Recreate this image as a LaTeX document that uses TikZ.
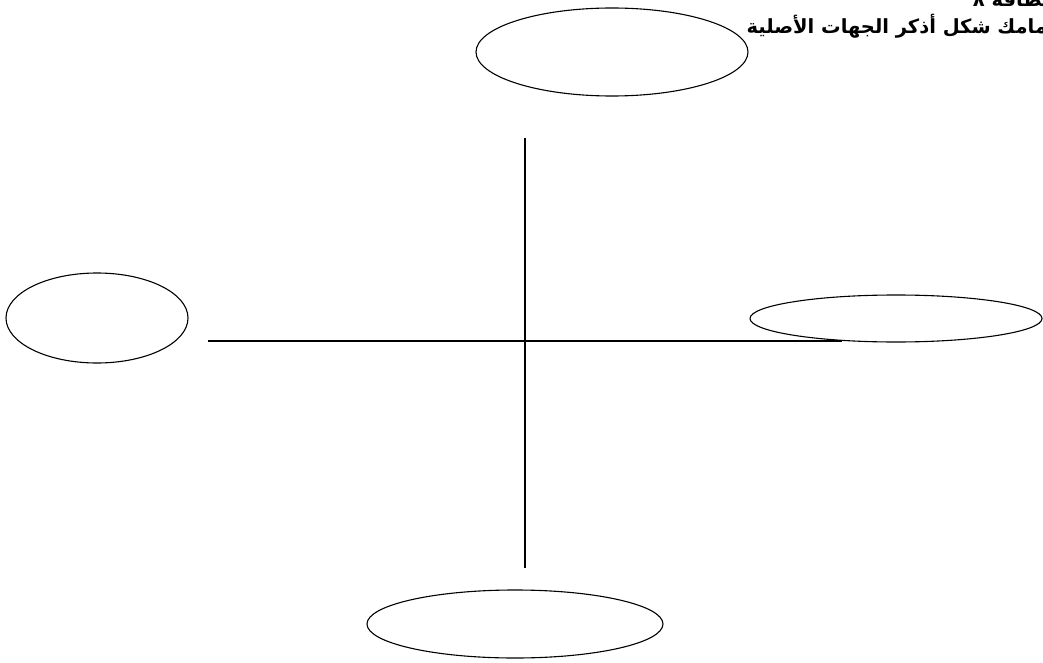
\documentclass[tikz,border=0pt]{standalone}
\usepackage{fontspec}
\newfontfamily\arabicfont[Script=Arabic,BoldFont={DejaVu Sans Bold}]{DejaVu Sans}
\TeXXeTstate=1
\usetikzlibrary{shapes.geometric}

\begin{document}
\begin{tikzpicture}[
  x=1pt, y=-1pt,
  blank/.style={draw=black, line width=1.1pt, ellipse, inner sep=0pt},
  axis/.style={draw=black, line width=1.1pt},
  ttl/.style={font=\arabicfont\bfseries\fontsize{19.5}{23}\selectfont, inner sep=0pt}]
\useasboundingbox (0,0) rectangle (1043,663);

% card title, partly cut by the page edge
\node[ttl, anchor=base east] (card) at (1050,7) {\beginR بطاقة ٨\endR};
\node[ttl, anchor=base east] (task) at (1054,34) {\beginR أمامك شكل أذكر الجهات الأصلية\endR};

% answer blanks
\node[blank, minimum width=272, minimum height=88] (north) at (612,52) {};
\node[blank, minimum width=182, minimum height=90] (west) at (97,318) {};
\node[blank, minimum width=292, minimum height=47] (east) at (896,318.5) {};
\node[blank, minimum width=296, minimum height=68] (south) at (515,624) {};

% cross
\coordinate (top) at (525,138);
\coordinate (bot) at (525,568);
\coordinate (lft) at (208,341);
\coordinate (rgt) at (842,341);
\draw[axis] (top) -- (bot);
\draw[axis] (lft) -- (rgt);
\end{tikzpicture}
\end{document}
